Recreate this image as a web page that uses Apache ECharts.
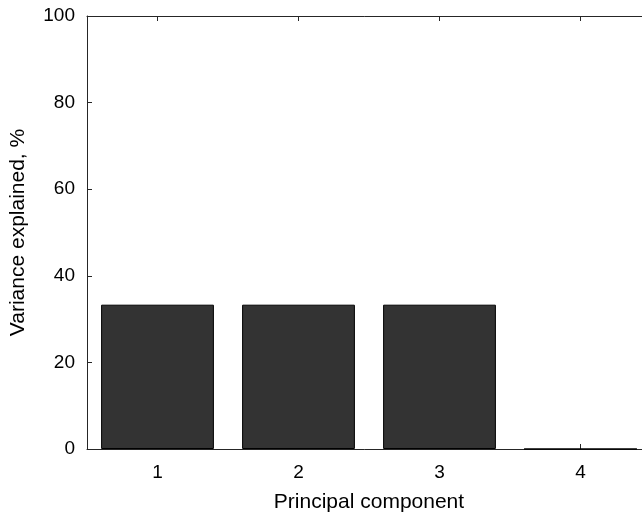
<!DOCTYPE html>
<html>
<head>
<meta charset="utf-8">
<script src="https://cdn.jsdelivr.net/npm/echarts@6/dist/echarts.min.js"></script>
<style>
html,body{margin:0;padding:0;background:#fff;}
#chart{width:642px;height:517px;}
</style>
</head>
<body>
<div id="chart"></div>
<script>
var categories = ['1', '2', '3', '4'];
var varianceExplained = [33.33, 33.33, 33.33, 0];
var yTicks = { min: 0, max: 100, interval: 20 };

var font = 'Liberation Sans, Arial, Helvetica, sans-serif';
var axisColor = '#262626';
var chart = echarts.init(document.getElementById('chart'), null, { renderer: 'canvas' });
chart.setOption({
  animation: false,
  backgroundColor: '#ffffff',
  grid: { left: 87, top: 16, width: 564, bottom: 68, containLabel: false, outerBoundsMode: 'none' },
  xAxis: [{
    type: 'category',
    data: categories,
    position: 'bottom',
    boundaryGap: true,
    name: 'Principal component',
    nameLocation: 'middle',
    nameGap: 43,
    nameTextStyle: { fontFamily: font, fontSize: 21, color: '#000' },
    axisLine: { show: true, onZero: false, lineStyle: { color: axisColor, width: 1 } },
    axisTick: { show: true, inside: true, alignWithLabel: true, length: 5, lineStyle: { color: axisColor } },
    axisLabel: { fontFamily: font, fontSize: 19, color: '#000', margin: 14 },
    splitLine: { show: false }
  }, {
    type: 'category',
    data: categories,
    position: 'top',
    boundaryGap: true,
    axisLine: { show: true, onZero: false, lineStyle: { color: axisColor, width: 1 } },
    axisTick: { show: true, inside: true, alignWithLabel: true, length: 5, lineStyle: { color: axisColor } },
    axisLabel: { show: false },
    splitLine: { show: false }
  }],
  yAxis: [{
    type: 'value',
    min: yTicks.min,
    max: yTicks.max,
    interval: yTicks.interval,
    position: 'left',
    name: 'Variance explained, %',
    nameLocation: 'middle',
    nameGap: 58,
    nameRotate: 90,
    nameTextStyle: { fontFamily: font, fontSize: 21, color: '#000' },
    axisLine: { show: true, onZero: false, lineStyle: { color: axisColor, width: 1 } },
    axisTick: { show: true, inside: true, length: 5, lineStyle: { color: axisColor } },
    axisLabel: { fontFamily: font, fontSize: 19, color: '#000', margin: 12 },
    splitLine: { show: false }
  }, {
    type: 'value',
    min: yTicks.min,
    max: yTicks.max,
    interval: yTicks.interval,
    position: 'right',
    axisLine: { show: true, onZero: false, lineStyle: { color: axisColor, width: 1 } },
    axisTick: { show: true, inside: true, length: 5, lineStyle: { color: axisColor } },
    axisLabel: { show: false },
    splitLine: { show: false }
  }],
  series: [{
    type: 'bar',
    data: varianceExplained,
    xAxisIndex: 0,
    yAxisIndex: 0,
    barWidth: '80%',
    itemStyle: { color: '#333333', borderColor: '#000000', borderWidth: 1 }
  }]
});
</script>
</body>
</html>
